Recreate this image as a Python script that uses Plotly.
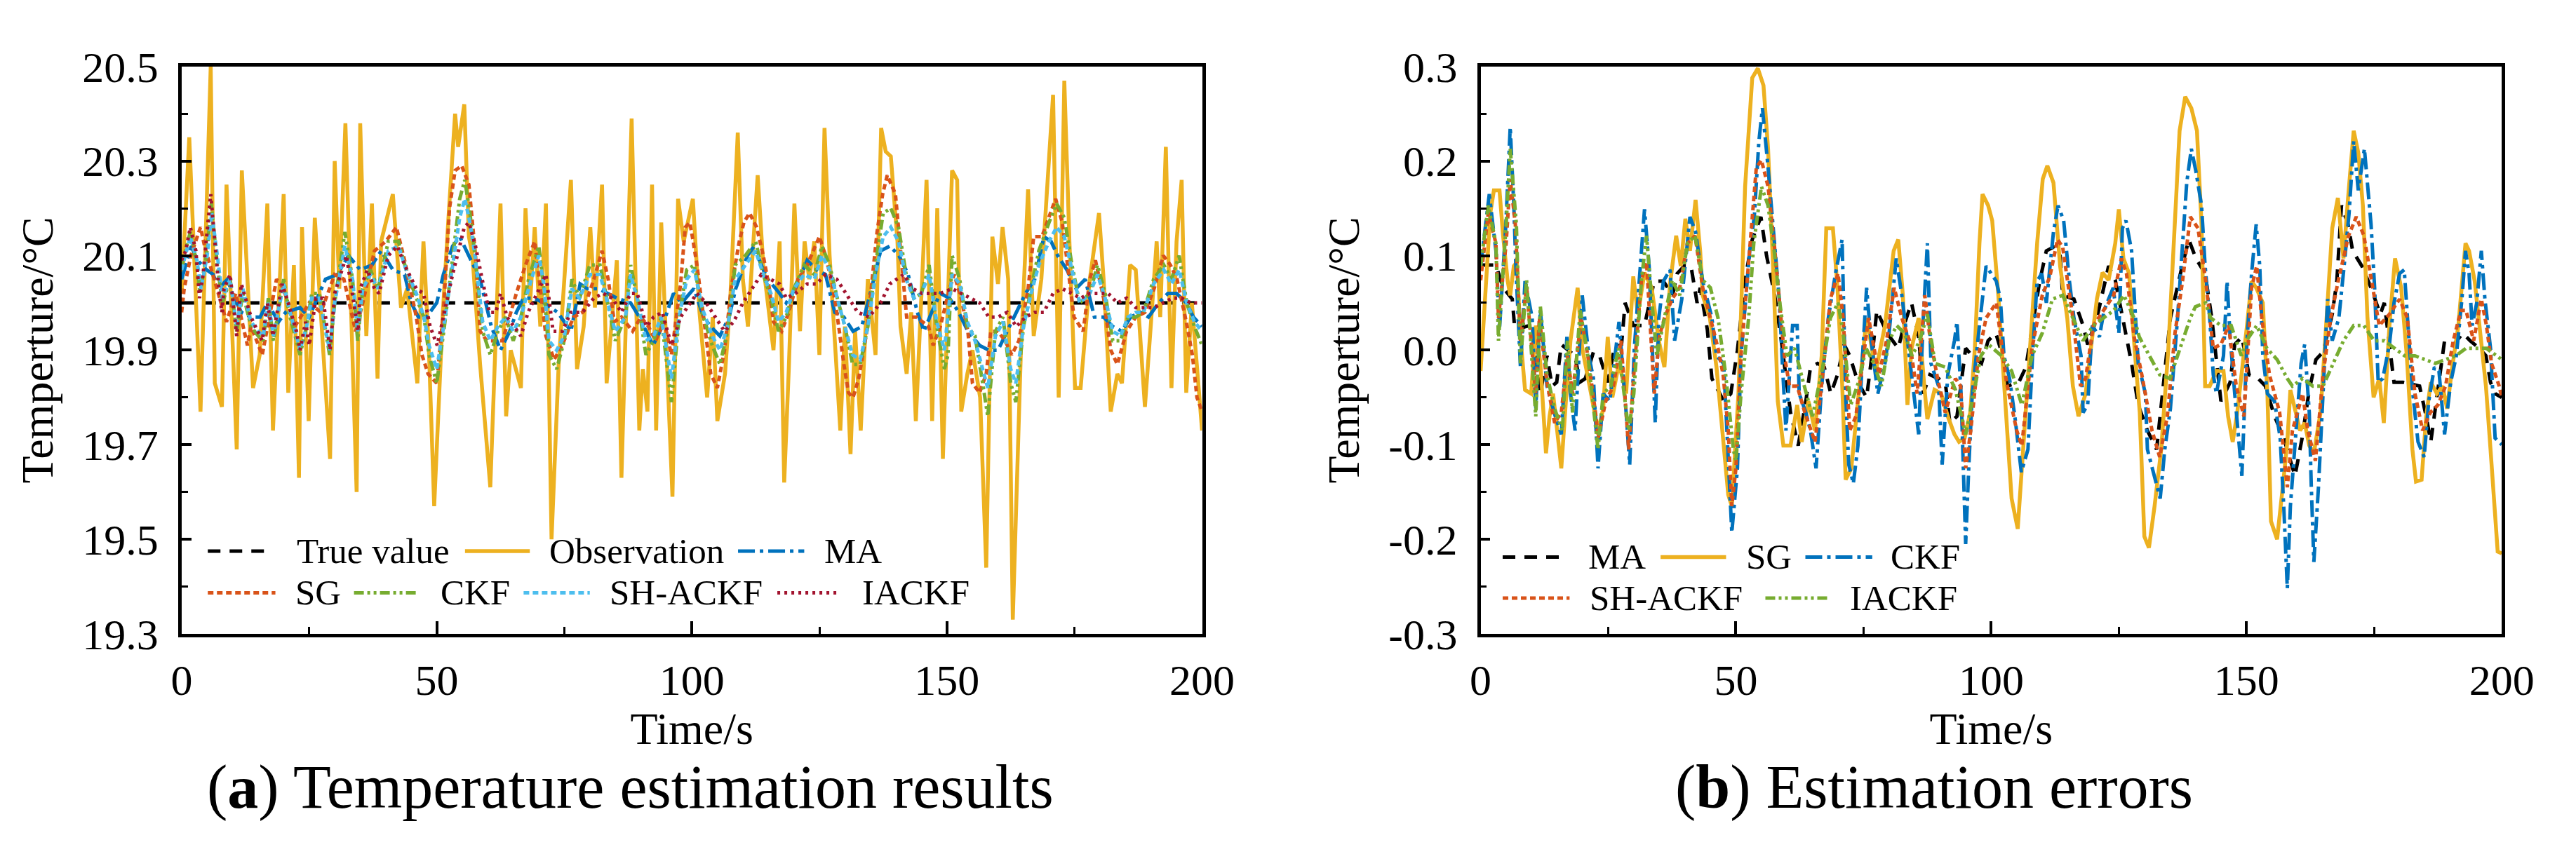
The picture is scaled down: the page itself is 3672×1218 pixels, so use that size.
import plotly.graph_objects as go

W, H = 3672, 1218

# ---------------- panel (a): temperature estimation results ----------------
obs_t = [0, 1.5, 3.7, 5.7, 6.5, 7.9, 8.8, 10.8, 11.8, 14.0, 15.3, 16.8, 17.9, 20.0, 20.9, 22.0, 23.0, 23.6,
         24.9, 26.1, 29.1, 30.0, 30.9, 32.1, 34.3, 35.0, 36.2, 37.3, 38.4, 39.1, 41.4, 43.0, 44.2, 46.2, 47.4,
         48.5, 49.5, 51.2, 52.3, 53.6, 54.2, 55.4, 56.3, 57.0, 58.5, 60.5, 62.5, 63.6, 64.5, 66.5, 67.4, 68.3,
         69.2, 70.3, 71.4, 72.5, 73.9, 76.3, 77.5, 78.8, 80.1, 81.0, 82.4, 83.3, 85.3, 86.2, 88.2, 89.7, 90.4,
         91.3, 92.2, 93.0, 94.0, 96.2, 97.3, 98.4, 100.2, 101.5, 103.0, 104.1, 105.0, 106.5, 107.5, 109.0,
         110.0, 111.0, 112.9, 114.0, 116.0, 117.2, 118.1, 119.0, 120.1, 121.2, 122.1, 123.0, 124.0, 125.0,
         126.0, 127.0, 129.1, 130.0, 131.1, 132.0, 133.1, 134.5, 136.0, 137.1, 138.0, 139.0, 140.3, 140.9,
         142.1, 143.0, 143.9, 146.0, 147.1, 148.1, 149.2, 151.0, 152.0, 152.8, 154.0, 155.0, 156.5, 157.7,
         158.9, 160.0, 160.9, 162.0, 162.9, 164.5, 165.9, 167.0, 168.5, 170.8, 171.9, 173.0, 174.0, 175.1,
         176.2, 178.0, 179.8, 180.7, 182.1, 183.4, 184.3, 185.9, 187.0, 188.8, 190.0, 191.1, 191.8, 192.9,
         194.0, 195.0, 196.0, 196.9, 198.0, 200.0]
obs_v = [20.02, 20.35, 19.77, 20.50, 19.83, 19.78, 20.25, 19.69, 20.28, 19.82, 19.89, 20.21, 19.73, 20.23, 19.81,
         20.08, 19.63, 20.16, 19.75, 20.18, 19.67, 20.30, 20.03, 20.38, 19.60, 20.38, 19.93, 20.21, 19.84, 20.13,
         20.23, 19.99, 20.03, 19.83, 20.13, 19.89, 19.57, 19.98, 20.18, 20.40, 20.33, 20.42, 20.14, 20.10, 19.87,
         19.61, 20.21, 19.76, 19.90, 19.82, 20.20, 20.00, 20.16, 19.95, 20.21, 19.50, 19.87, 20.26, 19.86, 19.95,
         20.16, 19.99, 20.25, 19.83, 20.09, 19.63, 20.39, 19.73, 19.86, 19.77, 20.25, 19.73, 20.17, 19.59, 20.22,
         20.13, 20.22, 19.98, 19.80, 19.97, 19.75, 19.85, 20.00, 20.36, 20.05, 19.95, 20.27, 20.08, 19.90, 20.13,
         19.62, 19.86, 20.21, 19.94, 20.13, 20.05, 20.13, 19.89, 20.37, 20.10, 19.73, 19.95, 19.68, 19.94, 19.73,
         20.05, 19.89, 20.37, 20.32, 20.31, 20.13, 19.95, 19.85, 19.98, 19.75, 20.26, 19.75, 20.20, 19.67, 20.28,
         20.26, 19.77, 19.85, 19.90, 19.80, 19.44, 20.14, 20.04, 20.16, 20.05, 19.33, 19.90, 20.24, 19.93, 20.05,
         20.44, 19.80, 20.47, 20.13, 19.82, 19.82, 20.05, 20.19, 20.05, 19.77, 19.85, 19.83, 20.08, 20.07, 19.78,
         19.96, 20.13, 19.97, 20.33, 19.82, 20.13, 20.26, 19.81, 20.00, 19.73]

ma_a_t = [0, 1.9, 3.1, 4.9, 6.2, 7.2, 9, 9.9, 11.7, 13.6, 15.4, 16.8, 19, 20.4, 23.2, 25, 28.2, 30.5, 32.7, 35,
          37.3, 39.1, 41.4, 43.7, 45, 46.4, 48, 50, 51.3, 53.1, 54.5, 55.8, 57.2, 58.5, 60.7, 62.5, 64.3, 65.6,
          67, 69, 71, 73.7, 76.3, 78.1, 79.5, 81.7, 83.5, 85.3, 88, 89.7, 92.4, 94.2, 96.4, 98, 100.4, 102.3,
          103.7, 105.5, 107.3, 108.6, 110.9, 112.2, 113.6, 114.9, 117.2, 118.5, 120.3, 122.6, 124.4, 126.2, 128,
          129.8, 131.6, 133.3, 135.2, 137, 138.8, 140.6, 142.4, 144.2, 145.5, 147, 148.7, 150.5, 152.3, 154.1,
          156.4, 158.2, 160, 161.8, 163.6, 165.4, 167.2, 169, 170.4, 171.7, 173.5, 175.3, 177.1, 178.9, 180.7,
          182.5, 184.3, 186, 187.9, 189.5, 191.5, 193.3, 195, 196.9, 198.3, 200]
ma_a_v = [20.05, 20.12, 20.09, 20.07, 20.06, 20.03, 20.05, 20.02, 19.98, 19.97, 19.97, 20.00, 19.96, 19.98, 19.99,
          19.97, 20.05, 20.06, 20.10, 20.07, 20.08, 20.11, 20.07, 20.06, 20.00, 19.97, 19.97, 20.00, 20.06, 20.12,
          20.14, 20.11, 20.08, 20.05, 19.95, 19.90, 19.94, 19.98, 20.01, 20.01, 20.00, 19.98, 19.94, 20.04, 20.03,
          20.03, 20.02, 20.01, 20.00, 19.97, 19.91, 19.95, 20.02, 20.00, 20.03, 19.97, 19.95, 19.93, 19.97, 20.03,
          20.10, 20.12, 20.08, 20.05, 20.02, 20.00, 20.03, 20.09, 20.07, 20.06, 19.98, 19.97, 19.94, 19.95, 20.03,
          20.11, 20.12, 20.10, 20.06, 19.98, 19.94, 19.98, 20.02, 20.01, 19.98, 19.94, 19.91, 19.90, 19.90, 19.94,
          19.98, 20.02, 20.05, 20.14, 20.13, 20.10, 20.07, 20.03, 20.05, 19.97, 19.97, 19.95, 19.94, 19.97, 19.98,
          19.97, 20.00, 20.02, 20.02, 20.00, 19.97, 19.95]

sg_a_t = [0, 0.5, 1.8, 3.7, 4.5, 5.8, 7.2, 8.8, 10.6, 12.9, 13.6, 15.8, 18.6, 20, 22.2, 25, 27.3, 30, 31.8, 34.1,
          35.5, 37.8, 40, 42.1, 43.7, 46, 47.1, 48.3, 50, 51.3, 52.5, 53.6, 54.9, 56.3, 57.6, 58.5, 59.8, 62.9,
          65.6, 67.4, 69.2, 70.5, 71.4, 73, 74.6, 76.8, 78.6, 80.8, 82.4, 83.6, 84.8, 86.2, 88.4, 90, 91.5, 92.9,
          94.6, 96, 97.8, 98.7, 99.6, 100.1, 101, 102.3, 103.7, 105, 106.4, 107.7, 109.3, 110.2, 111.3, 112.7,
          114, 115.2, 116, 117.6, 119, 120.8, 122.6, 125, 126.2, 127.5, 128.4, 129.8, 130.7, 131.6, 132.7, 134.3,
          135.2, 136.3, 137.4, 138.3, 139.9, 141, 142.1, 144, 146.4, 147.3, 148.7, 150.5, 151.4, 152.8, 154.1,
          155, 156.4, 157.7, 158.6, 160, 161.4, 162.7, 164.1, 165.9, 167, 168.6, 169.9, 171.3, 172.6, 173.7,
          174.9, 176.7, 178, 179.1, 180.7, 182.1, 183.4, 185.2, 187, 188.8, 190.6, 192.4, 193.8, 195.1, 196.9,
          198.1, 199, 200]
sg_a_v = [19.98, 20.03, 20.10, 20.16, 20.12, 20.07, 20.02, 19.96, 20.02, 19.91, 19.95, 19.89, 20.05, 20.03, 19.95,
          20.00, 19.98, 20.06, 20.05, 19.94, 20.00, 20.11, 20.13, 20.16, 20.09, 19.97, 19.89, 19.85, 19.83, 19.98,
          20.20, 20.28, 20.29, 20.25, 20.10, 19.94, 19.92, 19.92, 20.02, 20.08, 20.13, 20.02, 19.93, 19.88, 19.91,
          19.97, 19.98, 20.05, 20.11, 20.05, 19.96, 19.97, 19.94, 19.97, 19.95, 19.92, 19.96, 19.89, 20.04, 20.16,
          20.17, 20.14, 20.08, 19.97, 19.85, 19.82, 19.90, 20.03, 20.13, 20.17, 20.19, 20.16, 20.10, 20.03, 19.96,
          19.94, 19.98, 20.05, 20.08, 20.14, 20.10, 20.04, 19.98, 19.87, 19.81, 19.80, 19.84, 19.94, 20.04, 20.15,
          20.23, 20.27, 20.23, 20.10, 19.97, 19.97, 19.95, 19.91, 19.95, 20.03, 20.06, 20.01, 19.94, 19.83, 19.81,
          19.85, 19.94, 19.94, 19.92, 19.89, 19.92, 20.03, 20.14, 20.14, 20.18, 20.22, 20.17, 20.08, 19.97, 19.94,
          20.05, 20.09, 20.01, 19.90, 19.87, 19.94, 19.97, 19.98, 20.03, 20.10, 20.08, 20.05, 19.96, 19.89, 19.80,
          19.77]

ckf_a_t = [0, 1.7, 3, 3.6, 5, 5.8, 7, 8, 9.5, 10.8, 12, 13.6, 15, 16, 17, 18, 20, 21, 22.5, 23.2, 24.5, 25.5, 27,
           29, 30, 32, 33.5, 34.5, 35.5, 37, 38.5, 40.5, 42.5, 44, 46, 47.5, 48.5, 50, 51.5, 53, 54.5, 55.5, 56.5,
           57.5, 59, 60.5, 62, 63.5, 65, 66.5, 68, 70, 71, 72, 73.5, 75, 76.5, 78, 80, 82, 83.5, 85, 87, 88, 89.5,
           91, 92.5, 94, 96, 97.5, 99, 100.5, 102, 104, 105.5, 107, 108.5, 110.5, 112.5, 114, 115.5, 117, 118.5,
           120, 122, 124, 125.5, 127, 128.5, 130, 131.5, 133, 134.5, 136, 137.5, 139, 140.5, 142, 143.5, 145,
           146.5, 148, 149.5, 150.2, 151, 152.5, 154, 155.5, 157, 158, 159.5, 161, 162.5, 163.5, 165, 166.5, 168,
           170, 171.5, 173, 174.5, 176, 178, 179.5, 181, 182.5, 184, 185.5, 187, 188.5, 190.5, 192.5, 194, 195.5,
           197, 198.5, 200]
ckf_a_v = [20.08, 20.15, 20.08, 20.02, 20.11, 20.21, 20.08, 20.00, 20.05, 19.94, 20.02, 19.95, 19.93, 19.92, 20.01,
           19.92, 20.05, 19.98, 19.92, 19.89, 19.95, 20.02, 20.02, 19.89, 20.00, 20.15, 20.05, 19.92, 20.03, 20.07,
           20.03, 20.13, 20.13, 20.07, 20.01, 19.97, 19.89, 19.83, 19.95, 20.09, 20.22, 20.26, 20.19, 20.10, 19.94,
           19.89, 19.94, 19.97, 19.92, 19.97, 20.05, 20.12, 20.03, 19.89, 19.86, 19.92, 20.05, 20.01, 20.08, 20.08,
           20.00, 19.92, 19.97, 20.08, 20.00, 19.89, 19.92, 19.97, 19.79, 19.97, 20.07, 20.08, 19.98, 19.91, 19.87,
           19.94, 20.08, 20.10, 20.13, 20.06, 20.01, 19.94, 19.97, 20.03, 20.08, 20.06, 20.12, 20.08, 20.01, 19.95,
           19.87, 19.87, 19.95, 20.08, 20.19, 20.20, 20.16, 20.06, 20.01, 20.02, 20.08, 19.95, 19.86, 19.89, 20.10,
           20.05, 19.95, 19.93, 19.83, 19.76, 19.94, 19.97, 19.83, 19.79, 19.95, 20.03, 20.11, 20.17, 20.21, 20.18,
           20.08, 20.00, 20.02, 20.08, 20.02, 19.92, 19.92, 19.97, 19.97, 19.98, 20.05, 20.08, 20.05, 20.10, 20.00,
           19.95, 19.91]

shackf_a_t = [0, 1.7, 3, 3.8, 5, 5.9, 7, 8, 9.5, 10.8, 12, 13.6, 15, 16, 17, 18, 20, 21, 22.5, 23.2, 24.5, 25.5,
              27, 29, 30, 32, 33.5, 34.5, 35.5, 37, 38.5, 40.5, 42.5, 44, 46, 47.5, 48.5, 50, 51.5, 53, 54.5, 55.5,
              56.5, 57.5, 59, 60.5, 62, 63.5, 65, 66.5, 68, 70, 71, 72, 73.5, 75, 76.5, 78, 80, 82, 83.5, 85, 87,
              88, 89.5, 91, 92.5, 94, 96, 97.5, 99, 100.5, 102, 104, 105.5, 107, 108.5, 110.5, 112.5, 114, 115.5,
              117, 118.5, 120, 122, 124, 125.5, 127, 128.5, 130, 131.5, 133, 134.5, 136, 137.5, 139, 140.5, 142,
              143.5, 145, 146.5, 148, 149.5, 151, 152.5, 154, 155.5, 157, 158, 159.5, 161, 162.5, 163.5, 165,
              166.5, 168, 170, 171.5, 173, 174.5, 176, 178, 179.5, 181, 182.5, 184, 185.5, 187, 188.5, 190.5,
              192.5, 194, 195.5, 197, 198.5, 200]
shackf_a_v = [20.07, 20.14, 20.09, 20.03, 20.10, 20.19, 20.10, 20.01, 20.05, 19.95, 20.03, 19.96, 19.94, 19.93,
              20.00, 19.93, 20.04, 19.99, 19.93, 19.90, 19.95, 20.01, 20.01, 19.90, 20.00, 20.12, 20.05, 19.94,
              20.03, 20.06, 20.03, 20.11, 20.12, 20.07, 20.02, 19.97, 19.91, 19.86, 19.96, 20.07, 20.18, 20.22,
              20.17, 20.10, 19.96, 19.92, 19.95, 19.97, 19.94, 19.97, 20.03, 20.10, 20.04, 19.92, 19.90, 19.93,
              20.03, 20.01, 20.06, 20.06, 20.00, 19.94, 19.97, 20.06, 20.00, 19.92, 19.93, 19.97, 19.84, 19.97,
              20.05, 20.07, 19.99, 19.93, 19.90, 19.95, 20.05, 20.08, 20.11, 20.06, 20.02, 19.96, 19.98, 20.03,
              20.06, 20.05, 20.10, 20.07, 20.01, 19.95, 19.89, 19.88, 19.95, 20.06, 20.14, 20.16, 20.13, 20.05,
              20.01, 20.02, 20.06, 19.96, 19.90, 20.06, 20.04, 19.96, 19.92, 19.86, 19.82, 19.93, 19.96, 19.86,
              19.83, 19.95, 20.02, 20.08, 20.13, 20.16, 20.14, 20.07, 20.00, 20.02, 20.06, 20.01, 19.94, 19.93,
              19.97, 19.98, 19.98, 20.04, 20.07, 20.04, 20.07, 20.00, 19.96, 19.94]

iackf_a_t = [0, 0.8, 1.7, 2.8, 3.5, 4.2, 4.9, 5.7, 6.5, 7.4, 7.9, 8.3, 9.5, 10.8, 11.7, 13.6, 14.9, 15.8, 16.8,
             17.9, 19.7, 20.9, 22.5, 23.2, 24.3, 25, 26.3, 27.7, 29.1, 30, 32.3, 33.6, 34.6, 35, 36.4, 37.8, 38.7,
             40.5, 42.3, 43.7, 46, 47.4, 48.7, 50.1, 51.3, 53.1, 54.5, 55.4, 56.3, 57.6, 58.9, 60.3, 61.6, 62.5,
             63.8, 65.2, 66.5, 67.9, 69.6, 71.4, 72.8, 74.6, 76.3, 78.6, 80.8, 82.6, 84.4, 86.2, 88, 89.3, 91.1,
             92.5, 94.2, 96, 97.8, 99.1, 101, 102.8, 104.6, 106.4, 108.2, 110, 111.8, 113.6, 115.4, 117.2, 118.5,
             120.3, 122.6, 124.4, 126.2, 128.4, 130.2, 132.5, 134.7, 137, 138.8, 140.1, 141.5, 143.3, 145.1, 146.9,
             148.7, 151, 152.8, 154.6, 156.4, 158.2, 160, 161.8, 163.6, 165.4, 167.2, 169, 170.8, 172.6, 174.4,
             176.2, 178, 179.8, 181.6, 183.4, 185.2, 187, 188.8, 190.6, 192.4, 194.2, 196, 197.8, 200]
iackf_a_v = [20.09, 20.11, 20.16, 20.11, 20.01, 20.06, 20.14, 20.23, 20.13, 20.02, 19.98, 20.03, 20.06, 19.93,
             20.04, 19.97, 19.94, 19.92, 20.00, 19.93, 20.04, 20.00, 19.94, 19.90, 19.96, 19.91, 20.01, 20.01,
             19.90, 20.02, 20.10, 20.01, 19.94, 20.03, 20.07, 20.03, 20.02, 20.10, 20.12, 20.08, 20.03, 20.02,
             19.95, 19.91, 19.97, 20.06, 20.12, 20.16, 20.17, 20.12, 20.05, 19.98, 19.98, 20.02, 19.97, 19.95,
             19.93, 19.98, 20.02, 20.06, 19.94, 19.94, 19.98, 19.98, 20.01, 20.02, 20.01, 19.98, 20.02, 20.02,
             19.95, 19.97, 19.98, 19.91, 19.97, 19.99, 20.02, 20.00, 19.97, 19.94, 19.96, 20.00, 20.03, 20.06,
             20.05, 20.04, 20.01, 20.02, 20.04, 20.04, 20.06, 20.05, 20.02, 19.98, 19.97, 20.00, 20.04, 20.05,
             20.06, 20.03, 20.02, 20.02, 20.02, 20.03, 20.02, 20.01, 20.00, 19.97, 19.97, 19.98, 19.95, 19.97,
             19.98, 19.98, 20.02, 20.03, 20.02, 20.01, 20.02, 20.02, 20.02, 20.00, 20.01, 19.99, 19.99, 19.99,
             20.00, 20.01, 20.01, 20.00, 20.00]

true_t = [0, 200]
true_v = [20.0, 20.0]

# ---------------- panel (b): estimation errors ----------------
ma_b_t = [0, 3, 4.4, 6.2, 6.7, 9.6, 10.3, 11.7, 13, 14, 14.9, 15.8, 18.5, 19.4, 20.5, 22.1, 23.3, 24.9, 26.2,
          27.6, 28.3, 29.9, 32.1, 34, 35.8, 37.6, 38.5, 39.9, 41.2, 42.4, 43, 44.4, 45.3, 47.6, 49, 50.3, 51.9,
          53.2, 54.9, 56, 57.6, 58.9, 60.7, 62.2, 63.7, 64.6, 66, 67.3, 68.6, 69.9, 71.2, 72.3, 73.9, 75.6, 77,
          77.6, 79.6, 81.8, 82.9, 84.4, 85.8, 86.7, 88, 89.7, 91.1, 91.9, 93.3, 95, 96.3, 98.1, 99.4, 100.9,
          101.8, 103.2, 105.4, 106.8, 109.5, 110.8, 112.2, 113.5, 114, 116.2, 118, 118.9, 120.7, 122.1, 123,
          124.3, 126.1, 127.5, 128.8, 130.6, 132.4, 133.3, 134.2, 135.1, 137.4, 138.7, 140.1, 141.9, 143.2, 144,
          145, 146.8, 147.7, 149.1, 150.5, 152.3, 153.7, 155.5, 157.3, 159.5, 160.9, 162.3, 163.6, 165, 166.8,
          167.7, 168.6, 169.9, 170.8, 172.6, 174.4, 176.2, 177, 178.9, 180.7, 183.9, 185.2, 186.1, 187, 188.8,
          190.6, 192.4, 193.8, 195.6, 196.9, 197.8, 198.7, 200]
ma_b_v = [0.090, 0.090, 0.066, 0.054, 0.022, 0.026, 0.014, -0.046, -0.006, -0.038, -0.034, 0.006, -0.006, -0.034,
          -0.030, -0.002, -0.006, -0.034, 0.002, 0.006, 0.050, 0.026, 0.026, 0.073, 0.073, 0.058, 0.081, 0.089,
          0.089, 0.050, 0.066, 0.022, -0.030, -0.054, -0.046, 0.000, 0.078, 0.117, 0.141, 0.100, 0.058, 0.010,
          -0.066, -0.101, -0.054, -0.018, -0.014, -0.018, -0.046, -0.026, 0.006, -0.006, -0.034, -0.050, 0.010,
          0.042, 0.018, 0.002, 0.026, 0.050, 0.014, -0.046, -0.026, -0.030, -0.038, -0.077, -0.070, 0.002,
          -0.006, -0.014, 0.010, 0.018, 0.002, -0.038, -0.034, -0.018, 0.073, 0.105, 0.109, 0.100, 0.058, 0.054,
          0.026, 0.006, 0.034, 0.066, 0.089, 0.074, 0.026, -0.014, -0.058, -0.085, -0.105, -0.058, -0.014, 0.034,
          0.089, 0.117, 0.097, 0.081, 0.034, -0.006, -0.054, -0.034, 0.006, 0.014, -0.026, -0.030, -0.038, -0.070,
          -0.093, -0.133, -0.093, -0.042, -0.010, -0.002, 0.038, 0.073, 0.153, 0.133, 0.105, 0.089, 0.066, 0.038,
          0.050, -0.034, -0.034, -0.038, -0.070, -0.097, -0.062, 0.010, 0.006, 0.018, 0.010, 0.002, -0.006, -0.034,
          -0.046, -0.050]

sg_b_t = [0, 1, 1.9, 2.6, 3.7, 4.4, 5.3, 5.8, 6.5, 7.1, 7.8, 8.7, 9.9, 10.8, 11.7, 12.8, 13.5, 14.2, 15, 15.8,
          16.7, 17.6, 19, 19.9, 21.2, 23, 24, 24.9, 25.8, 27.1, 28.5, 29.9, 30.8, 32.1, 33.5, 34.9, 36, 37.1,
          38.3, 39.2, 40.1, 41, 42.1, 43, 43.5, 44.9, 46.2, 47.6, 48.5, 49.2, 50.5, 51.8, 53.2, 54.3, 55.4, 56.3,
          57.4, 58.2, 59.3, 60.7, 62, 62.9, 64.2, 65.5, 66.8, 67.7, 69, 69.9, 70.8, 71.5, 72.6, 73.9, 75.6, 77.4,
          79.2, 80.9, 81.8, 82.7, 83.6, 84.4, 85.8, 86.9, 87.5, 88.9, 90.2, 91.5, 92.8, 93.7, 94.8, 95.9, 96.8,
          97.7, 98.3, 99.4, 100.2, 101.4, 102.7, 104, 105.2, 106.3, 107.7, 109, 110.1, 111, 112.2, 113.5, 114.9,
          116, 117.1, 118.5, 119.8, 120.7, 121.8, 123, 124.3, 125, 125.9, 127, 128.2, 129.1, 130, 130.9, 132,
          133.3, 134.7, 135.6, 136.9, 138, 139.2, 140.3, 141.2, 141.9, 142.8, 144.1, 145.5, 146.4, 147.3, 148.2,
          149.1, 150.1, 151, 151.9, 153.2, 154.1, 154.8, 156, 157.1, 158, 158.6, 159.5, 160.5, 161.4, 162.3,
          163.2, 164.5, 165.6, 166.8, 167.9, 169, 169.9, 171, 171.9, 172.8, 173.7, 174.9, 176, 176.9, 178, 179.1,
          180.3, 181.4, 182.5, 183.2, 184.3, 185.2, 186.1, 187.3, 188.4, 189.3, 190.2, 191.5, 192.9, 193.6,
          194.7, 195.6, 196.9, 197.8, 199.2, 200]
sg_b_v = [-0.022, 0.073, 0.145, 0.169, 0.169, 0.121, 0.073, 0.058, 0.089, 0.093, 0.014, -0.042, -0.046, 0.026,
          -0.014, -0.109, -0.070, -0.046, -0.082, -0.125, -0.054, 0.010, 0.066, 0.002, -0.034, -0.085, -0.062,
          0.014, -0.050, -0.014, -0.046, 0.078, 0.038, 0.082, 0.066, 0.010, -0.018, 0.070, 0.121, 0.089, 0.139,
          0.105, 0.159, 0.105, 0.058, 0.034, -0.018, -0.097, -0.153, -0.165, -0.046, 0.173, 0.288, 0.298, 0.280,
          0.213, 0.073, -0.054, -0.101, -0.101, -0.058, -0.097, -0.054, -0.085, -0.006, 0.129, 0.129, 0.066,
          -0.034, -0.137, -0.125, -0.054, 0.034, -0.022, 0.026, 0.105, 0.117, 0.058, -0.058, 0.002, 0.034, -0.038,
          -0.073, -0.042, -0.046, -0.070, -0.089, -0.097, -0.093, -0.066, 0.002, 0.113, 0.165, 0.153, 0.137,
          0.058, -0.054, -0.157, -0.189, -0.105, 0.014, 0.113, 0.181, 0.195, 0.177, 0.089, 0.034, -0.038, -0.070,
          -0.046, 0.014, 0.054, 0.082, 0.074, 0.113, 0.149, 0.097, 0.081, -0.006, -0.066, -0.197, -0.209, -0.165,
          -0.105, 0.002, 0.101, 0.232, 0.268, 0.256, 0.232, 0.133, -0.038, -0.038, -0.022, -0.022, -0.070, -0.097,
          -0.066, -0.026, 0.026, 0.073, 0.066, 0.050, -0.046, -0.181, -0.200, -0.145, -0.097, -0.042, -0.062,
          -0.085, -0.077, -0.101, -0.109, -0.066, 0.026, 0.129, 0.161, 0.097, 0.161, 0.232, 0.209, 0.153, 0.034,
          -0.050, -0.030, -0.077, 0.026, 0.097, 0.066, -0.006, -0.105, -0.139, -0.137, -0.070, -0.034, -0.046,
          -0.038, -0.062, -0.022, 0.026, 0.113, 0.105, 0.073, 0.026, -0.038, -0.105, -0.213, -0.215]

ckf_b_t = [0, 1.7, 3, 3.7, 4.9, 5.8, 6.5, 6.9, 7.8, 8.7, 10.1, 10.8, 11.7, 13, 14.4, 15.8, 16.9, 17.6, 18.5, 19.9,
           21.2, 22.1, 23, 24, 25.3, 27.1, 28.5, 29.2, 30.1, 31.2, 32.1, 33, 33.7, 34.2, 34.9, 35.8, 37.1, 38,
           39.4, 41, 42.1, 43.5, 45.3, 46.2, 47.6, 48.5, 49.2, 50.3, 51, 52.7, 53.6, 54.5, 55.2, 56.3, 57.4, 58.5,
           59.1, 59.8, 61.1, 62, 62.4, 63.7, 64.6, 65.7, 66.8, 68.1, 69.5, 70.8, 71.5, 72.1, 73, 73.9, 74.8, 75.6,
           76.4, 77.8, 79.2, 80, 81.4, 82.5, 83.6, 84.9, 85.8, 86.7, 87.5, 88.2, 89.7, 90.4, 91.5, 92.8, 93.3,
           94.1, 95, 95.6, 96.3, 97.7, 99, 100, 101, 101.8, 102.5, 103.6, 104.7, 105.9, 107.2, 108.1, 109, 109.9,
           110.8, 112.2, 113.1, 114.2, 115.3, 116.2, 117.6, 118, 118.9, 119.8, 121.2, 122.1, 123.9, 125, 125.7,
           126.4, 127.5, 128.8, 130.2, 130.6, 131.5, 133.1, 134, 135.1, 136.5, 137.4, 138.3, 139.2, 140.1, 141.2,
           141.9, 142.8, 143.5, 144.1, 145.5, 146.2, 146.8, 147.7, 148.6, 149.1, 150.1, 151, 151.9, 152.6, 153.2,
           154.1, 155.5, 156.6, 157.3, 158, 158.6, 159.5, 160.7, 161.4, 162.3, 162.7, 163.2, 164.1, 165, 165.9,
           166.8, 168.1, 169.2, 170.1, 171, 171.9, 173.1, 173.7, 174.4, 175.1, 175.8, 176.7, 178, 178.9, 180,
           180.9, 181.6, 182.5, 183.6, 184.8, 185.7, 186.8, 187.7, 188.8, 190, 191.1, 192.2, 192.9, 193.6, 194.2,
           195.1, 196, 196.7, 197.8, 198.7, 200]
ckf_b_v = [0.089, 0.165, 0.105, 0.022, 0.129, 0.236, 0.153, 0.089, -0.018, 0.073, 0.034, -0.062, 0.042, -0.038,
           -0.066, -0.089, 0.014, -0.046, -0.085, 0.058, -0.006, -0.030, -0.125, -0.046, -0.054, 0.030, -0.066,
           -0.121, 0.002, 0.081, 0.149, 0.089, 0.002, -0.077, 0.034, 0.073, 0.085, 0.010, 0.054, 0.141, 0.125,
           0.073, 0.034, -0.006, -0.014, -0.105, -0.193, -0.125, -0.006, 0.105, 0.141, 0.221, 0.256, 0.193, 0.125,
           0.054, -0.014, -0.085, 0.026, 0.026, -0.046, -0.066, -0.085, -0.125, -0.038, 0.034, 0.081, 0.117,
           -0.046, -0.121, -0.141, -0.101, -0.006, 0.066, 0.014, -0.046, -0.014, 0.018, 0.097, 0.058, 0.010,
           -0.046, -0.089, 0.034, 0.113, -0.014, -0.038, -0.121, -0.026, 0.010, 0.030, -0.046, -0.205, -0.125,
           -0.046, 0.026, 0.089, 0.081, 0.073, 0.054, -0.006, -0.030, -0.073, -0.129, -0.105, -0.006, 0.073, 0.081,
           0.050, 0.125, 0.153, 0.137, 0.074, 0.034, -0.006, -0.066, -0.058, 0.026, 0.014, 0.042, 0.066, 0.018,
           0.129, 0.137, 0.105, -0.014, -0.046, -0.105, -0.125, -0.157, -0.105, -0.062, 0.034, 0.113, 0.177,
           0.213, 0.189, 0.153, 0.089, 0.034, -0.026, -0.046, -0.006, 0.073, 0.014, -0.046, -0.101, -0.133, 0.010,
           0.081, 0.133, 0.089, -0.006, -0.046, -0.054, -0.093, -0.165, -0.252, -0.165, -0.105, -0.014, 0.006,
           -0.066, -0.145, -0.224, -0.145, -0.046, 0.054, 0.010, 0.034, 0.093, 0.145, 0.221, 0.169, 0.213, 0.177,
           0.133, 0.066, -0.034, -0.030, 0.006, 0.050, 0.081, 0.085, 0.034, -0.042, -0.097, -0.113, -0.054, -0.018,
           -0.022, -0.089, -0.034, -0.006, 0.054, 0.105, 0.081, 0.026, 0.050, 0.105, 0.054, 0.002, -0.093, -0.100]

shackf_b_t = [0, 1.5, 3, 3.5, 5, 5.8, 6.8, 7.8, 9, 10.8, 11.5, 13, 14.5, 15.8, 17, 18, 19.7, 21, 22.5, 23, 24.5,
              26, 27.5, 29, 30, 31.5, 32.5, 34, 35, 36, 37.5, 39, 40.5, 42, 43.5, 45, 46.5, 47.5, 48.5, 49.2, 50,
              51, 52.5, 54, 55, 56.3, 57.5, 58.5, 59.5, 60.5, 62, 63.5, 65.5, 67, 68.5, 70, 71, 72.3, 73.5, 75,
              76, 78, 79.5, 81, 82.5, 84, 85.5, 87, 88, 89.5, 91, 93, 94, 95, 96, 97.5, 99, 101, 103, 105, 106,
              108, 110, 111.5, 113, 114, 116, 117.5, 118.5, 120, 122, 124, 125.5, 126.5, 128, 129.5, 131.5, 133,
              134.5, 136, 137.5, 139, 140.5, 142, 143.5, 145, 146.5, 148, 149.5, 150, 151, 152, 153, 154.5, 156.5,
              158, 159, 161, 162, 163.5, 165, 166.5, 168, 170, 171.5, 173, 174.5, 176, 178, 180, 181.5, 183,
              184.5, 186, 187.5, 189, 190.5, 192, 193, 194.5, 196, 197, 198, 199.5, 200]
shackf_b_v = [0.074, 0.145, 0.113, 0.034, 0.113, 0.181, 0.133, 0.010, 0.066, -0.046, 0.034, -0.034, -0.077,
              -0.066, -0.006, -0.046, 0.034, -0.006, -0.066, -0.093, -0.054, -0.038, 0.010, -0.105, -0.026, 0.074,
              0.093, -0.046, 0.014, 0.034, 0.054, 0.066, 0.113, 0.121, 0.066, 0.034, 0.002, -0.026, -0.085, -0.165,
              -0.125, -0.006, 0.093, 0.193, 0.201, 0.173, 0.113, 0.054, -0.006, -0.038, -0.038, -0.066, -0.097,
              -0.026, 0.054, 0.081, 0.034, -0.085, -0.070, -0.006, 0.034, -0.026, 0.010, 0.066, 0.034, 0.010,
              -0.046, 0.058, 0.014, -0.030, -0.066, -0.030, -0.038, -0.125, -0.085, -0.006, 0.034, 0.050, -0.034,
              -0.085, -0.101, 0.002, 0.058, 0.078, 0.117, 0.109, 0.034, -0.038, -0.030, 0.026, 0.042, 0.058, 0.097,
              0.081, 0.014, -0.026, -0.085, -0.113, -0.070, 0.018, 0.074, 0.141, 0.129, 0.074, 0.002, 0.006, 0.026,
              -0.038, -0.070, -0.026, 0.066, 0.089, 0.034, -0.026, -0.066, -0.145, -0.085, -0.046, -0.085, -0.117,
              -0.026, 0.034, 0.074, 0.121, 0.141, 0.121, 0.074, 0.026, 0.038, 0.054, 0.034, -0.046, -0.085, -0.066,
              -0.058, -0.038, 0.010, 0.042, 0.042, 0.010, 0.054, 0.026, -0.014, -0.038, -0.050]

iackf_b_t = [0, 1.5, 3, 3.5, 5, 5.8, 7, 7.8, 9, 10.8, 11.7, 13, 14.5, 16, 17, 18, 19.5, 21, 23, 24, 25.5, 27, 29,
             30, 31.5, 32.5, 33.5, 34.5, 36, 37.5, 39, 40.5, 42, 43.5, 45, 46.5, 48, 49, 49.5, 50, 51, 52.5, 53.5,
             55, 56.3, 57.5, 58.5, 60, 61.5, 63, 65, 67, 68.5, 70, 71, 72.5, 74, 75.5, 77, 78.5, 80, 81.5, 83,
             84.5, 86, 87.5, 89, 91, 93, 95, 96.5, 98, 99.5, 102, 104, 106, 108, 110, 112, 114, 116, 118, 120,
             122, 124, 126, 128, 129, 131, 133, 135, 137, 139, 140, 142, 143, 145, 147, 149, 150, 152, 154, 156,
             158, 159, 161, 163, 165, 167, 169, 171, 173, 175, 177, 179, 181, 183, 185, 187, 189, 191, 193, 195,
             197, 199, 200]
iackf_b_v = [0.089, 0.153, 0.113, 0.010, 0.133, 0.213, 0.133, -0.014, 0.074, -0.070, 0.046, -0.026, -0.062,
             -0.085, 0.010, -0.066, 0.042, -0.006, -0.105, -0.046, -0.038, 0.002, -0.085, -0.046, 0.074, 0.121,
             0.054, -0.006, 0.034, 0.074, 0.058, 0.113, 0.121, 0.074, 0.066, 0.034, -0.026, -0.085, -0.105, -0.117,
             -0.046, 0.034, 0.113, 0.173, 0.153, 0.105, 0.054, -0.006, 0.002, -0.030, -0.070, -0.018, 0.034, 0.050,
             0.018, -0.058, -0.034, 0.002, -0.014, -0.038, 0.010, 0.026, 0.018, -0.006, 0.010, 0.038, -0.014,
             -0.018, -0.042, -0.089, -0.046, -0.006, 0.006, -0.006, -0.022, -0.058, -0.006, 0.018, 0.054, 0.058,
             0.034, 0.010, 0.026, 0.034, 0.042, 0.058, 0.034, 0.014, -0.006, -0.026, -0.030, 0.002, 0.034, 0.046,
             0.050, 0.034, 0.026, 0.026, -0.006, 0.010, 0.026, 0.002, -0.010, -0.030, -0.038, -0.030, -0.038,
             -0.038, -0.014, 0.010, 0.026, 0.026, 0.010, 0.010, 0.002, -0.006, -0.006, -0.010, -0.014, -0.010,
             -0.006, 0.002, 0.002, 0.002, -0.006, -0.010]

names_a = ["True value", "Observation", "MA", "SG", "CKF", "SH-ACKF", "IACKF"]
names_b = ["MA", "SG", "CKF", "SH-ACKF", "IACKF"]
ytick_a = [19.3, 19.5, 19.7, 19.9, 20.1, 20.3, 20.5]
ytick_b = [-0.3, -0.2, -0.1, 0.0, 0.1, 0.2, 0.3]
ytick_b_text = ["-0.3", "-0.2", "-0.1", "0.0", "0.1", "0.2", "0.3"]
xtick = [0, 50, 100, 150, 200]

FONT = "Liberation Serif"
LW = 5
styles_a = [
    dict(color="black", width=LW, dash="18px,13px"),
    dict(color="#EDB120", width=5.5, dash="solid"),
    dict(color="#0072BD", width=LW, dash="24px,7px,5px,7px"),
    dict(color="#D95319", width=LW, dash="8px,5px"),
    dict(color="#77AC30", width=LW, dash="14px,5px,4px,5px,4px,5px"),
    dict(color="#4DBEEE", width=LW, dash="8px,5px"),
    dict(color="#A2142F", width=LW, dash="4px,6px"),
]
styles_b = [
    dict(color="black", width=LW, dash="18px,13px"),
    dict(color="#EDB120", width=5.5, dash="solid"),
    dict(color="#0072BD", width=LW, dash="24px,7px,5px,7px"),
    dict(color="#D95319", width=LW, dash="8px,5px"),
    dict(color="#77AC30", width=LW, dash="14px,5px,4px,5px,4px,5px"),
]

series_a = [(true_t, true_v), (obs_t, obs_v), (ma_a_t, ma_a_v), (sg_a_t, sg_a_v),
            (ckf_a_t, ckf_a_v), (shackf_a_t, shackf_a_v), (iackf_a_t, iackf_a_v)]
series_b = [(ma_b_t, ma_b_v), (sg_b_t, sg_b_v), (ckf_b_t, ckf_b_v),
            (shackf_b_t, shackf_b_v), (iackf_b_t, iackf_b_v)]

fig = go.Figure()
for (t, v), name, st in zip(series_a, names_a, styles_a):
    fig.add_trace(go.Scatter(x=t, y=v, name=name, mode="lines", line=st,
                             xaxis="x", yaxis="y", showlegend=False))
for (t, v), name, st in zip(series_b, names_b, styles_b):
    fig.add_trace(go.Scatter(x=t, y=v, name=name, mode="lines", line=st,
                             xaxis="x2", yaxis="y2", showlegend=False))

# plot area positions in pixels
ax_l = [239, 1719]
ax_r = [2123, 3604]
ax_y = [57, 914]
px = lambda p: p / W
py = lambda p: 1 - p / H

axis_common = dict(
    showline=True, linecolor="black", linewidth=4.5, mirror=True,
    ticks="inside", tickwidth=4, tickcolor="black",
    showgrid=False, zeroline=False,
    tickfont=dict(family=FONT, size=62, color="black"),
    title_font=dict(family=FONT, size=64, color="black"),
)
xaxis_common = dict(axis_common, range=[0, 200], tickvals=xtick, ticklen=18, ticklabelstandoff=8,
                    minor=dict(ticks="inside", ticklen=10, tickwidth=3, dtick=25, tick0=0),
                    title=dict(text="Time/s", standoff=8))
yaxis_common = dict(axis_common, ticklen=14, ticklabelstandoff=16)

fig.update_layout(
    width=W, height=H,
    margin=dict(l=0, r=0, t=0, b=0),
    paper_bgcolor="white", plot_bgcolor="white",
    xaxis=dict(xaxis_common, domain=[px(ax_l[0]), px(ax_l[1])], anchor="y"),
    yaxis=dict(yaxis_common, domain=[py(ax_y[1]), py(ax_y[0])], anchor="x",
               range=[19.3, 20.5], tickvals=ytick_a, tickformat=".1f",
               minor=dict(ticks="inside", ticklen=9, tickwidth=3, dtick=0.1, tick0=19.3),
               title=dict(text="Temperture/°C", standoff=22)),
    xaxis2=dict(xaxis_common, domain=[px(ax_r[0]), px(ax_r[1])], anchor="y2"),
    yaxis2=dict(yaxis_common, domain=[py(ax_y[1]), py(ax_y[0])], anchor="x2",
                range=[-0.3, 0.3], tickvals=ytick_b, ticktext=ytick_b_text,
                minor=dict(ticks="inside", ticklen=9, tickwidth=3, dtick=0.05, tick0=-0.3),
                title=dict(text="Temperture/°C", standoff=22)),
)

# hand-placed legends: (line x0, line x1, text x, row y) in pixels
leg_a = [(277, 363, 404, 789), (650, 744, 770, 789), (1046, 1142, 1169, 789),
         (277, 375, 402, 852), (489, 580, 612, 852), (735, 831, 858, 852), (1103, 1194, 1224, 852)]
leg_b = [(2155, 2237, 2277, 798), (2384, 2479, 2506, 798), (2594, 2691, 2716, 798),
         (2155, 2252, 2279, 860), (2536, 2627, 2657, 860)]

shapes, annos = [], []
for (x0, x1, xt, yy), name, st in list(zip(leg_a, names_a, styles_a)) + list(zip(leg_b, names_b, styles_b)):
    shapes.append(dict(type="line", xref="paper", yref="paper", x0=px(x0), x1=px(x1),
                       y0=py(yy), y1=py(yy), line=st))
    annos.append(dict(xref="paper", yref="paper", x=px(xt), y=py(yy), text=name, showarrow=False,
                      xanchor="left", yanchor="middle", font=dict(family=FONT, size=51, color="black")))

annos.append(dict(xref="paper", yref="paper", x=px(890), y=py(1145), showarrow=False,
                  text="(<b>a</b>) Temperature estimation results", xanchor="center", yanchor="middle",
                  font=dict(family=FONT, size=88, color="black")))
annos.append(dict(xref="paper", yref="paper", x=px(2781), y=py(1145), showarrow=False,
                  text="(<b>b</b>) Estimation errors", xanchor="center", yanchor="middle",
                  font=dict(family=FONT, size=88, color="black")))

fig.update_layout(shapes=shapes, annotations=annos)

fig.write_html("out.html")
